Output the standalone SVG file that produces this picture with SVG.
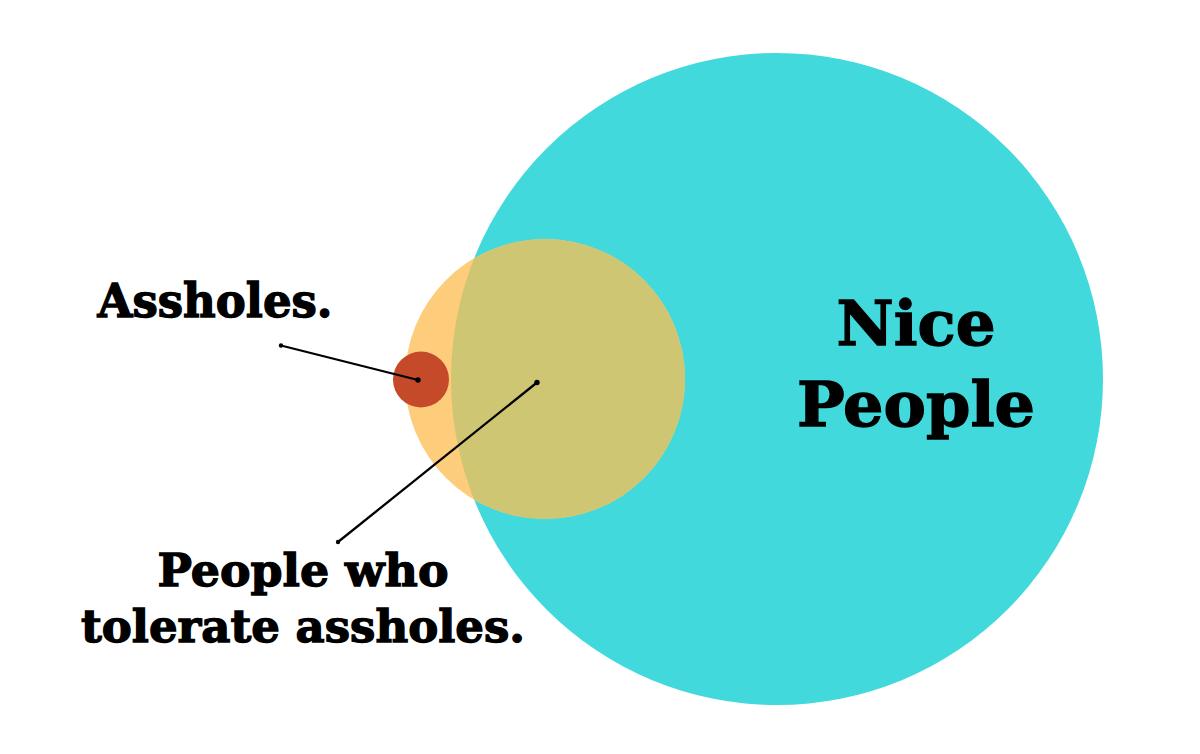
<svg xmlns="http://www.w3.org/2000/svg" width="1200" height="754" viewBox="0 0 1200 754">
<style>
.lbl{font-family:"DejaVu Serif","Liberation Serif",serif;font-weight:bold;fill:#000;stroke:#000;stroke-width:1.3;text-anchor:middle}
.ptr{stroke:#000;stroke-width:2.3;fill:none}
</style>
<defs>
<clipPath id="cyanClip"><circle cx="777" cy="379" r="326"/></clipPath>
</defs>
<rect width="1200" height="754" fill="#fff"/>
<g id="nice-people">
<circle cx="777" cy="379" r="326" fill="#42D9DC"/>
<text class="lbl" x="916" y="345" font-size="61" textLength="159" lengthAdjust="spacingAndGlyphs">Nice</text>
<text class="lbl" x="916" y="426" font-size="61" textLength="238" lengthAdjust="spacingAndGlyphs">People</text>
</g>
<g id="tolerators">
<circle cx="545" cy="379" r="140" fill="#FDCD7B"/>
<circle cx="545" cy="379" r="140" fill="#CFC673" clip-path="url(#cyanClip)"/>
<text class="lbl" x="303" y="586" font-size="44" textLength="291" lengthAdjust="spacingAndGlyphs">People who</text>
<text class="lbl" x="303" y="642" font-size="44" textLength="444" lengthAdjust="spacingAndGlyphs">tolerate assholes.</text>
</g>
<g id="assholes">
<circle cx="421" cy="379.5" r="28" fill="#C44A2A"/>
<text class="lbl" x="215" y="317" font-size="46" textLength="235" lengthAdjust="spacingAndGlyphs">Assholes.</text>
</g>
<g id="connectors">
<line class="ptr" x1="281" y1="345.5" x2="418" y2="380"/>
<circle cx="281" cy="345.5" r="2.2"/>
<circle cx="418" cy="380" r="2.7"/>
<line class="ptr" x1="537" y1="382.5" x2="338" y2="542"/>
<circle cx="537" cy="382.5" r="2.7"/>
<circle cx="338" cy="542" r="2.2"/>
</g>
</svg>
